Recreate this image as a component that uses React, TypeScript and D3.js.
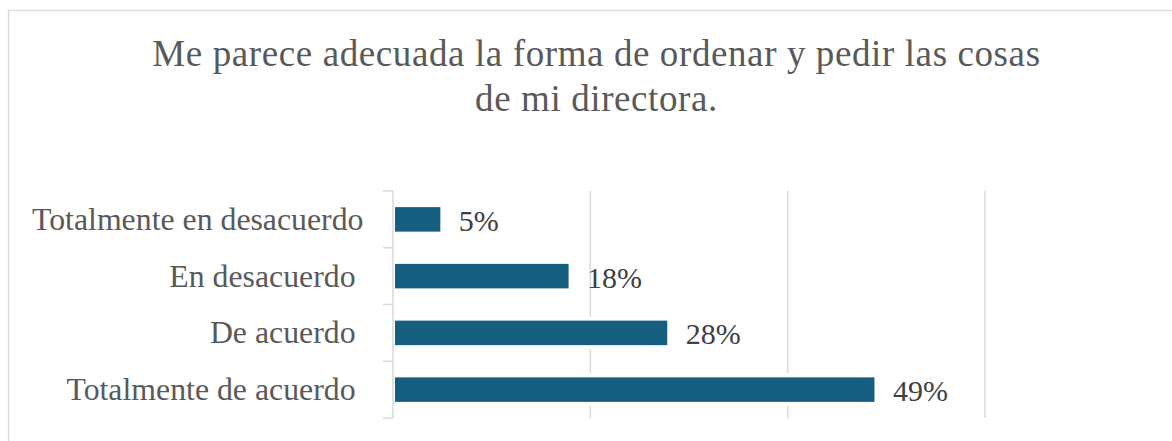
import React from "react";
import * as d3 from "d3";

const categories = ["Totalmente en desacuerdo", "En desacuerdo ", "De acuerdo ", "Totalmente de acuerdo "];
const values = [0.05, 0.18, 0.28, 0.49];
const valueLabels = ["5%", "18%", "28%", "49%"];
const gridTicks = [0.2, 0.4, 0.6];
const titleLines = ["Me parece adecuada la forma de ordenar y pedir las cosas", "de mi directora."];

const W = 1172;
const H = 441;

export default function App() {
  const x = d3.scaleLinear().domain([0, 0.6]).range([393, 985]);
  const y = d3.scaleBand<string>().domain(categories).range([191, 418]).padding(0);
  const step = y.step();
  const bh = 24.5;
  const grid = "#D9D9D9";
  const serif = "'Liberation Serif', 'Times New Roman', serif";
  const boundaries = d3.range(categories.length + 1).map((i) => 191 + i * step);

  return (
    <svg width={W} height={H} style={{ position: "absolute", left: 0, top: 0, background: "#fff" }}>
      <rect x={8.5} y={10.5} width={1300} height={600} fill="#fff" stroke={grid} strokeWidth={1.3} />
      {titleLines.map((t, i) => (
        <text key={i} x={596.5} y={66 + i * 45} textAnchor="middle" fontFamily={serif} fontSize={37}
          letterSpacing={0.6} fill="#595959">{t}</text>
      ))}
      {gridTicks.map((t) => (
        <line key={t} x1={x(t)} x2={x(t)} y1={191} y2={418} stroke={grid} strokeWidth={1.5} />
      ))}
      <line x1={x(0)} x2={x(0)} y1={191} y2={418} stroke={grid} strokeWidth={1.5} />
      {boundaries.map((b, i) => (
        <line key={i} x1={383} x2={x(0)} y1={b} y2={b} stroke={grid} strokeWidth={1.5} />
      ))}
      {categories.map((c, i) => {
        const yc = (y(c) as number) + step / 2;
        return (
          <g key={c}>
            <rect x={x(0) + 1} y={yc - bh / 2 - 4} width={x(values[i]) - x(0) - 1} height={bh + 8} fill="#fff" />
            <rect x={x(0) + 2} y={yc - bh / 2} width={x(values[i]) - x(0) - 4} height={bh} fill="#165E80" />
            <text x={x(values[i]) + 16.5} y={yc + 11.5} fontFamily={serif} fontSize={30} fill="#404040">{valueLabels[i]}</text>
            <text x={363.5} y={yc + 10.5} textAnchor="end" fontFamily={serif} fontSize={31.8} fill="#595959"
              style={{ whiteSpace: "pre" }}>{c}</text>
          </g>
        );
      })}
    </svg>
  );
}
